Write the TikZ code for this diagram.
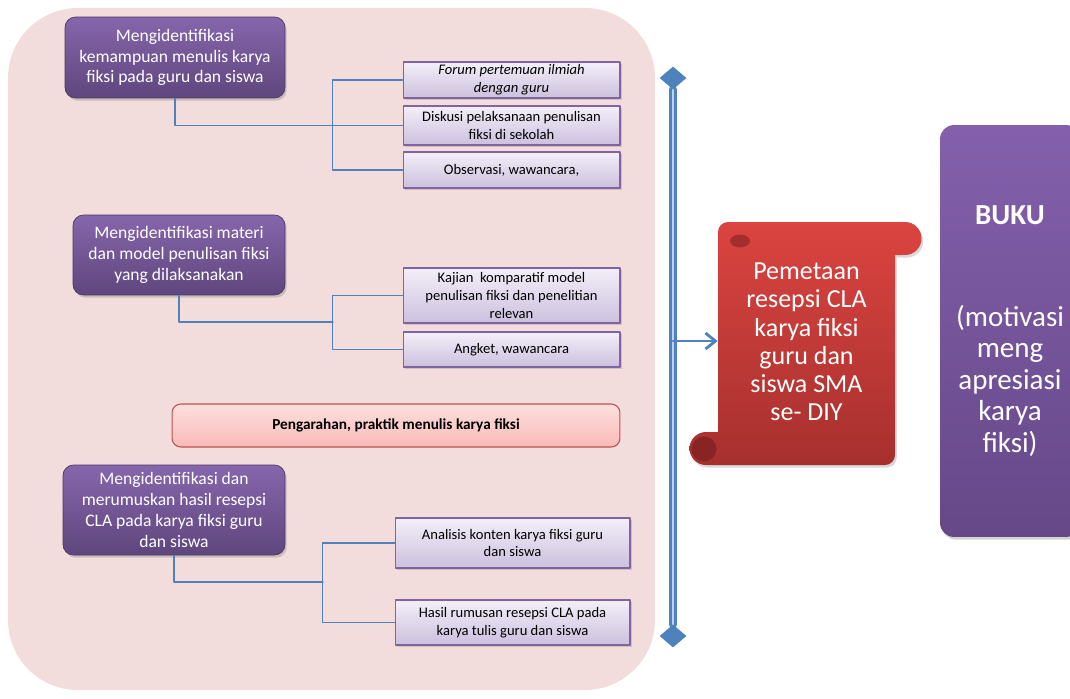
\documentclass[tikz,border=0pt]{standalone}
\usepackage{fontspec}
\setmainfont{Carlito}
\usetikzlibrary{arrows.meta,shapes.geometric,shadows}

\definecolor{pinkbg}{RGB}{242,221,220}
\definecolor{purpletop}{RGB}{134,102,172}
\definecolor{purplebot}{RGB}{95,70,125}
\definecolor{lavtop}{RGB}{243,239,248}
\definecolor{lavbot}{RGB}{204,192,222}
\definecolor{lavborder}{RGB}{128,100,162}
\definecolor{linkblue}{RGB}{79,129,189}
\definecolor{spinelight}{RGB}{190,210,235}
\definecolor{bartop}{RGB}{253,224,222}
\definecolor{barbot}{RGB}{248,186,184}
\definecolor{barborder}{RGB}{192,80,77}
\definecolor{scrolltop}{RGB}{219,68,64}
\definecolor{scrollbot}{RGB}{166,48,46}
\definecolor{scrolldark}{RGB}{128,34,34}
\definecolor{bukutop}{RGB}{132,96,172}
\definecolor{bukubot}{RGB}{102,72,136}

\begin{document}
\begin{tikzpicture}[x=0.02cm, y=0.02cm, line cap=round, line join=round,
    >={Straight Barb[length=2mm,width=3.2mm]},
    stage/.style={draw=purplebot!80!black, line width=0.4pt, rounded corners=6pt,
      top color=purpletop, bottom color=purplebot, text=white, align=center,
      font=\fontsize{10}{11.9}\selectfont, inner sep=2pt,
      drop shadow={opacity=0.35, shadow xshift=1pt, shadow yshift=-1.5pt}},
    task/.style={draw=lavborder, line width=0.6pt, top color=lavtop, bottom color=lavbot,
      align=center, font=\fontsize{8.3}{10.2}\selectfont, minimum width=4.34cm, inner sep=1pt,
      drop shadow={opacity=0.3, shadow xshift=1pt, shadow yshift=-1pt}},
    notebar/.style={draw=barborder, line width=0.6pt, rounded corners=5pt,
      top color=bartop, bottom color=barbot, font=\bfseries\fontsize{8.7}{10}\selectfont,
      minimum width=8.96cm, minimum height=0.86cm},
    link/.style={draw=linkblue, line width=0.8pt},
    spinetip/.style={diamond, fill=linkblue, minimum width=0.54cm, minimum height=0.46cm, inner sep=0pt},
    spine/.style={draw=linkblue, line width=1.9pt, double=spinelight, double distance=1.1pt},
    scrolltext/.style={text=white, align=center, font=\fontsize{14.8}{16.1}\selectfont,
      minimum width=3.54cm},
    bookbox/.style={rounded corners=8pt, top color=bukutop, bottom color=bukubot,
      text=white, align=center, font=\fontsize{16.5}{18}\selectfont,
      minimum width=2.8cm, minimum height=8.24cm,
      drop shadow={opacity=0.35, shadow xshift=1pt, shadow yshift=-1.5pt}}]

  \useasboundingbox (0,0) rectangle (1070,698);
  \clip (0,0) rectangle (1070,698);

  \fill[pinkbg, rounded corners=1.4cm] (8,8) rectangle (655,690);

  \node[stage, minimum width=4.4cm, minimum height=1.62cm] (ident1) at (175,640.5)
    {Mengidentifikasi\\kemampuan menulis karya\\fiksi pada guru dan siswa};
  \node[task, minimum height=0.72cm] (forum) at (511.5,618) {\itshape Forum pertemuan ilmiah\\\itshape dengan guru};
  \node[task, minimum height=0.78cm] (diskusi) at (511.5,572.5) {Diskusi pelaksanaan penulisan\\fiksi di sekolah};
  \node[task, minimum height=0.72cm] (observasi) at (511.5,528) {Observasi, wawancara,};
  \draw[link] (ident1.south) |- (diskusi.west);
  \draw[link] (forum.west) -- ++(-70,0) |- (observasi.west);

  \node[stage, minimum width=4.24cm, minimum height=1.6cm] (ident2) at (179,443)
    {Mengidentifikasi materi\\dan model penulisan fiksi\\yang dilaksanakan};
  \node[task, minimum height=1.1cm] (kajian) at (511.5,402.5) {Kajian\ \ komparatif model\\penulisan fiksi dan penelitian\\relevan};
  \node[task, minimum height=0.7cm] (angket) at (511.5,348.5) {Angket, wawancara};
  \coordinate (join2) at (333,376);
  \draw[link] (ident2.south) |- (join2);
  \draw[link] (kajian.west) -- ++(-70,0) |- (angket.west);

  \node[notebar] (pengarahan) at (396,272.5) {Pengarahan, praktik menulis karya fiksi};

  \node[stage, minimum width=4.44cm, minimum height=1.8cm] (ident3) at (174,188)
    {Mengidentifikasi dan\\merumuskan hasil resepsi\\CLA pada karya fiksi guru\\dan siswa};
  \node[task, minimum width=4.7cm, minimum height=1cm] (analisis) at (512.5,155) {Analisis konten karya fiksi guru\\dan siswa};
  \node[task, minimum width=4.7cm, minimum height=0.9cm] (hasil) at (512.5,75.5) {Hasil rumusan resepsi CLA pada\\karya tulis guru dan siswa};
  \coordinate (join3) at (323,116);
  \draw[link] (ident3.south) |- (join3);
  \draw[link] (analisis.west) -- ++(-72,0) |- (hasil.west);

  \node[spinetip] (spinetop) at (673,620) {};
  \node[spinetip] (spinebot) at (673,62) {};
  \draw[spine] (spinetop) -- (spinebot);

  \shade[top color=scrolltop, bottom color=scrollbot, drop shadow={opacity=0.3, shadow xshift=1pt, shadow yshift=-1.5pt}]
    (728,476) -- (905,476) arc[start angle=90, end angle=-90, radius=0.33cm] -- (895,443)
    -- (895,243) arc[start angle=0, end angle=-90, radius=0.2cm] -- (706,233)
    arc[start angle=270, end angle=90, radius=0.33cm] -- (718,266)
    -- (718,466) arc[start angle=180, end angle=90, radius=0.2cm] -- cycle;
  \fill[scrolldark, opacity=0.6] (740,457) ellipse[x radius=0.2cm, y radius=0.13cm];
  \fill[scrolldark, opacity=0.8] (704,249) circle (0.25cm);
  \node[scrolltext] (pemetaan) at (806.5,356)
    {Pemetaan\\resepsi CLA\\karya fiksi\\guru dan\\siswa SMA\\se- DIY};

  \coordinate (tap) at (673,357);
  \draw[->, draw=linkblue, line width=1.6pt] (tap) -- (tap -| pemetaan.west);

  \node[bookbox] (buku) at (1010,367)
    {\textbf{BUKU}\\[40pt](motivasi\\meng\\apresiasi\\karya\\fiksi)};
\end{tikzpicture}
\end{document}
